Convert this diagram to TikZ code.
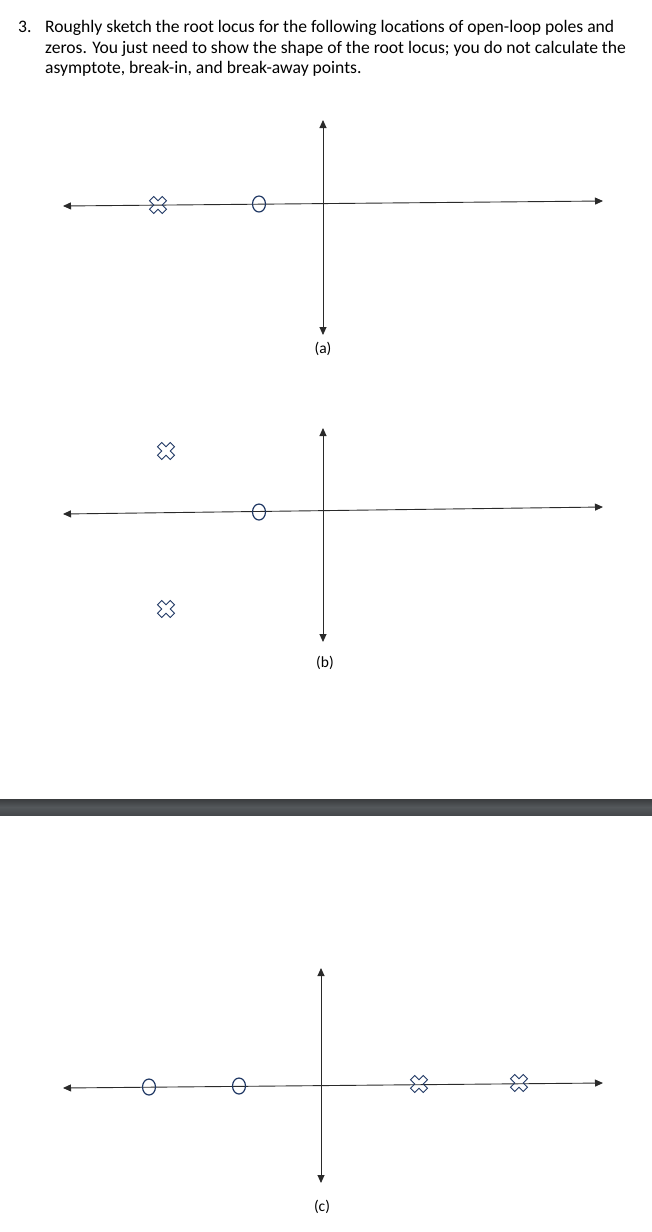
\documentclass[tikz,border=0pt]{standalone}
\usepackage{fontspec}
\setmainfont{Carlito}
\usetikzlibrary{arrows.meta,shapes.geometric}
\definecolor{navymark}{HTML}{203864}
\definecolor{axiscol}{HTML}{2A2A2A}
\definecolor{bartop}{HTML}{3A3C3E}
\definecolor{barmid}{HTML}{54585B}
\definecolor{barbot}{HTML}{45484B}
\tikzset{
  axisline/.style={draw=axiscol, line width=0.9pt,
    {Triangle[length=8pt,width=7pt]}-{Triangle[length=8pt,width=7pt]}},
  zeromark/.style={ellipse, draw=navymark, line width=1.2pt, fill=none,
    minimum width=13pt, minimum height=16pt, inner sep=0pt},
  polemark/.pic={
    \draw[navymark, line width=1pt, rotate=45]
      (3,9) -- (3,3) -- (9,3) -- (9,-3) -- (3,-3) -- (3,-9) -- (-3,-9)
      -- (-3,-3) -- (-9,-3) -- (-9,3) -- (-3,3) -- (-3,9) -- cycle;
  },
  caption/.style={font=\fontsize{15.5}{18}\selectfont, inner sep=0pt},
  bodytext/.style={font=\fontsize{17.6}{21}\selectfont, inner sep=0pt, anchor=base west}
}
\begin{document}
\begin{tikzpicture}[x=1pt,y=-1pt]
\useasboundingbox (0,0) rectangle (652,1232);
\fill[white] (0,0) rectangle (652,1232);

% question text
\node[bodytext] (num) at (18,32) {3.};
\node[bodytext] (l1) at (45,32) {Roughly sketch the root locus for the following locations of open-loop poles and};
\node[bodytext] (l2) at (45,53) {zeros. You just need to show the shape of the root locus; you do not calculate the};
\node[bodytext] (l3) at (45,73.5) {asymptote, break-in, and break-away points.};

% ---------- (a) ----------
\coordinate (aL) at (63,206);
\coordinate (aR) at (603,201);
\coordinate (aT) at (323,120);
\coordinate (aB) at (323,335);
\draw[axisline] (aL) -- (aR);
\draw[axisline] (aB) -- (aT);
\pic (ap1) at (158,205) {polemark};
\node[zeromark] (az1) at (259,204) {};
\node[caption] (acap) at (323,349) {(a)};

% ---------- (b) ----------
\coordinate (bL) at (63,514);
\coordinate (bR) at (603,507);
\coordinate (bT) at (323,428);
\coordinate (bB) at (323,642);
\draw[axisline] (bL) -- (bR);
\draw[axisline] (bB) -- (bT);
\pic (bp1) at (166,451) {polemark};
\pic (bp2) at (166,609) {polemark};
\node[zeromark] (bz1) at (259,512) {};
\node[caption] (bcap) at (325,663) {(b)};

% ---------- page break bar ----------
\shade[top color=bartop, bottom color=barbot, middle color=barmid] (0,799) rectangle (652,815);

% ---------- (c) ----------
\coordinate (cL) at (63,1088);
\coordinate (cR) at (603,1083);
\coordinate (cT) at (321,968);
\coordinate (cB) at (321,1183);
\draw[axisline] (cL) -- (cR);
\draw[axisline] (cB) -- (cT);
\node[zeromark] (cz1) at (149,1087) {};
\node[zeromark] (cz2) at (239,1086) {};
\pic (cp1) at (419,1084) {polemark};
\pic (cp2) at (519,1083) {polemark};
\node[caption] (ccap) at (322,1207) {(c)};
\end{tikzpicture}
\end{document}
